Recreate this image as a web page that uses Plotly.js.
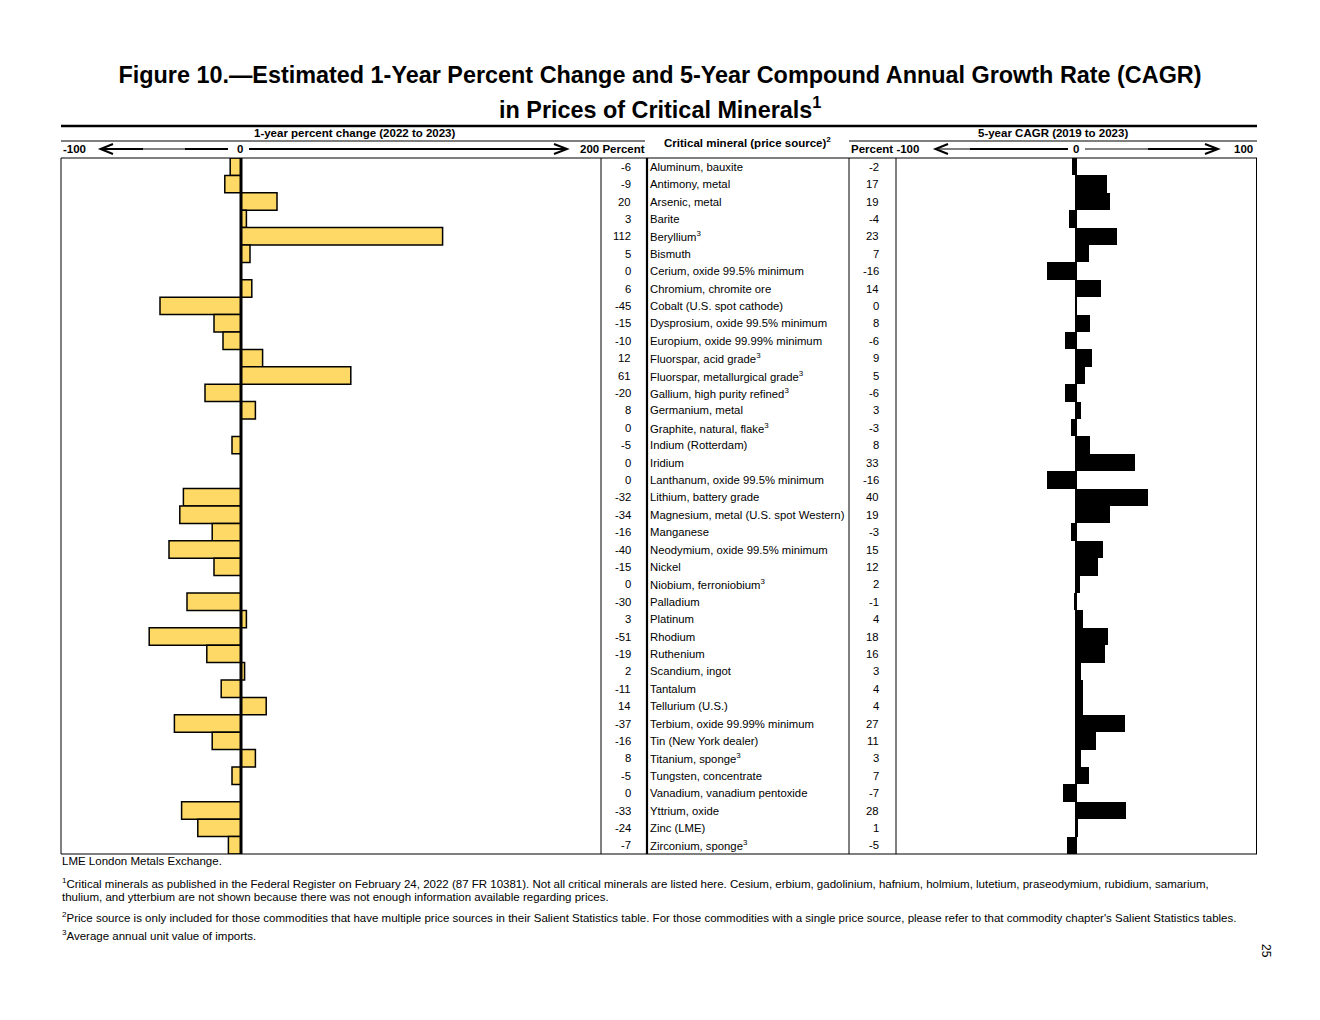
<!DOCTYPE html>
<html>
<head>
<meta charset="utf-8">
<script src="https://cdn.plot.ly/plotly-3.0.1.min.js"></script>
<style>html,body{margin:0;padding:0;background:#fff;}#chart{width:1320px;height:1020px;}</style>
</head>
<body>
<div id="chart"></div>
<script>
// ---------- DATA ----------
const minerals = [
  "Aluminum, bauxite", "Antimony, metal", "Arsenic, metal", "Barite", "Beryllium<sup>3</sup>",
  "Bismuth", "Cerium, oxide 99.5% minimum", "Chromium, chromite ore", "Cobalt (U.S. spot cathode)",
  "Dysprosium, oxide 99.5% minimum", "Europium, oxide 99.99% minimum", "Fluorspar, acid grade<sup>3</sup>",
  "Fluorspar, metallurgical grade<sup>3</sup>", "Gallium, high purity refined<sup>3</sup>", "Germanium, metal",
  "Graphite, natural, flake<sup>3</sup>", "Indium (Rotterdam)", "Iridium", "Lanthanum, oxide 99.5% minimum",
  "Lithium, battery grade", "Magnesium, metal (U.S. spot Western)", "Manganese", "Neodymium, oxide 99.5% minimum",
  "Nickel", "Niobium, ferroniobium<sup>3</sup>", "Palladium", "Platinum", "Rhodium", "Ruthenium",
  "Scandium, ingot", "Tantalum", "Tellurium (U.S.)", "Terbium, oxide 99.99% minimum", "Tin (New York dealer)",
  "Titanium, sponge<sup>3</sup>", "Tungsten, concentrate", "Vanadium, vanadium pentoxide", "Yttrium, oxide",
  "Zinc (LME)", "Zirconium, sponge<sup>3</sup>"
];
const oneYearChange = [
  -6, -9, 20, 3, 112, 5, 0, 6, -45, -15, -10, 12, 61, -20, 8, 0, -5, 0, 0, -32,
  -34, -16, -40, -15, 0, -30, 3, -51, -19, 2, -11, 14, -37, -16, 8, -5, 0, -33, -24, -7
];
const fiveYearCagr = [
  -2, 17, 19, -4, 23, 7, -16, 14, 0, 8, -6, 9, 5, -6, 3, -3, 8, 33, -16, 40,
  19, -3, 15, 12, 2, -1, 4, 18, 16, 3, 4, 4, 27, 11, 3, 7, -7, 28, 1, -5
];
const leftTicks = ["-100", "0", "200 Percent"];
const rightTicks = ["Percent -100", "0", "100"];
const titleLine1 = "Figure 10.\u2014Estimated 1-Year Percent Change and 5-Year Compound Annual Growth Rate (CAGR)";
const titleLine2 = "in Prices of Critical Minerals<sup>1</sup>";
const leftHeader = "1-year percent change (2022 to 2023)";
const midHeader = "Critical mineral (price source)<sup>2</sup>";
const rightHeader = "5-year CAGR (2019 to 2023)";
const footnotes = [
  "LME London Metals Exchange.",
  "<sup>1</sup>Critical minerals as published in the Federal Register on February 24, 2022 (87 FR 10381). Not all critical minerals are listed here. Cesium, erbium, gadolinium, hafnium, holmium, lutetium, praseodymium, rubidium, samarium,",
  "thulium, and ytterbium are not shown because there was not enough information available regarding prices.",
  "<sup>2</sup>Price source is only included for those commodities that have multiple price sources in their Salient Statistics table. For those commodities with a single price source, please refer to that commodity chapter's Salient Statistics tables.",
  "<sup>3</sup>Average annual unit value of imports."
];
const pageNumber = "25";

// ---------- LAYOUT HELPERS ----------
const W = 1320, H = 1020;
const px = x => x / W;
const py = y => 1 - y / H;
const FONT = "Liberation Sans, Arial, sans-serif";
const idx = minerals.map((_, i) => i);

function ln(x0, y0, x1, y1, w) {
  return {type: 'line', xref: 'paper', yref: 'paper', x0: px(x0), y0: py(y0), x1: px(x1), y1: py(y1),
          line: {color: '#000', width: w}, layer: 'above'};
}
function pth(pts, w) {
  return {type: 'path', xref: 'paper', yref: 'paper',
          path: 'M ' + pts.map(p => px(p[0]) + ' ' + py(p[1])).join(' L '),
          line: {color: '#000', width: w}, layer: 'above'};
}
function txt(x, y, text, size, opts) {
  return Object.assign({xref: 'paper', yref: 'paper', x: px(x), y: py(y), text: text, showarrow: false,
          font: {family: FONT, size: size, color: '#000'}, xanchor: 'center', yanchor: 'middle'}, opts || {});
}

const TOP = 158, BOT = 854;
const TITLE_SIZE = 23.4, HEAD_SIZE = 11.5, ROW_SIZE = 11.3, NOTE_SIZE = 11.5;

const traces = [
  {type: 'bar', orientation: 'h', x: oneYearChange, y: idx, xaxis: 'x', yaxis: 'y',
   marker: {color: '#FFD966', line: {color: '#000', width: 1.5}}, hoverinfo: 'x'},
  {type: 'bar', orientation: 'h', x: fiveYearCagr, y: idx, xaxis: 'x2', yaxis: 'y2',
   marker: {color: '#000', line: {color: '#000', width: 0}}, hoverinfo: 'x'}
];

const yDomain = [py(BOT), py(TOP)];
const layout = {
  width: W, height: H,
  margin: {l: 0, r: 0, t: 0, b: 0},
  paper_bgcolor: '#fff', plot_bgcolor: '#fff',
  showlegend: false,
  bargap: 0,
  title: {text: titleLine1, x: 0.5, xanchor: 'center', xref: 'paper', y: py(75), yanchor: 'middle',
          font: {family: FONT, size: TITLE_SIZE, color: '#000', weight: 'bold'}},
  xaxis: {domain: [px(61), px(601)], range: [-100, 200], showgrid: false, zeroline: false,
          showticklabels: false, ticks: '', fixedrange: true},
  yaxis: {domain: yDomain, range: [minerals.length - 0.5, -0.5], showgrid: false, zeroline: false,
          showticklabels: false, ticks: ''},
  xaxis2: {domain: [px(896), px(1256)], range: [-100, 100], showgrid: false, zeroline: false,
           showticklabels: false, ticks: '', anchor: 'y2'},
  yaxis2: {domain: yDomain, range: [minerals.length - 0.5, -0.5], showgrid: false, zeroline: false,
           showticklabels: false, ticks: '', anchor: 'x2'},
  shapes: [],
  annotations: []
};

const S = layout.shapes, A = layout.annotations;

// zero lines through the library's scales
S.push({type: 'line', xref: 'x', yref: 'paper', x0: 0, x1: 0, y0: py(TOP), y1: py(BOT),
        line: {color: '#000', width: 3}, layer: 'above'});
S.push({type: 'line', xref: 'x2', yref: 'paper', x0: 0, x1: 0, y0: py(TOP), y1: py(BOT),
        line: {color: '#000', width: 2}, layer: 'above'});

// table frame
S.push(ln(61, 126, 1257, 126, 2.5));
S.push(ln(61, 141, 645, 141, 1.2));
S.push(ln(849, 141, 1257, 141, 1.2));
S.push(ln(61, 158, 1257, 158, 1));
S.push(ln(61, 854, 1257, 854, 1.2));
S.push(ln(61, 158, 61, 854, 1));
S.push(ln(1256.5, 158, 1256.5, 854, 1));
S.push(ln(601, 158, 601, 854, 1));
S.push(ln(647, 158, 647, 854, 2.2));
S.push(ln(849, 158, 849, 854, 1));
S.push(ln(896, 158, 896, 854, 1));

// arrows (left chart)
const AY = 149;
S.push(pth([[113, AY - 5], [100.5, AY], [113, AY + 5]], 2));
S.push(ln(101, AY, 143, AY, 2.2));
S.push(ln(143, AY, 185, AY, 1));
S.push(ln(185, AY, 228, AY, 2.2));
S.push(ln(249, AY, 567, AY, 2.2));
S.push(pth([[554, AY - 5], [567, AY], [554, AY + 5]], 2));
// arrows (right chart)
S.push(pth([[948, AY - 5], [935.5, AY], [948, AY + 5]], 2));
S.push(ln(936, AY, 970, AY, 1));
S.push(ln(970, AY, 1068, AY, 2.2));
S.push(ln(1085, AY, 1148, AY, 1));
S.push(ln(1148, AY, 1218, AY, 2.2));
S.push(pth([[1205, AY - 5], [1218, AY], [1205, AY + 5]], 2));

// header texts
const hb = s => ({family: FONT, size: s, color: '#000', weight: 'bold'});
A.push(txt(660, 108, titleLine2, TITLE_SIZE, {font: hb(TITLE_SIZE)}));
A.push(txt(355, 133, leftHeader, HEAD_SIZE, {font: hb(HEAD_SIZE)}));
A.push(txt(1053, 133, rightHeader, HEAD_SIZE, {font: hb(HEAD_SIZE)}));
A.push(txt(747, 142, midHeader, HEAD_SIZE, {font: hb(HEAD_SIZE)}));
A.push(txt(61, AY, leftTicks[0], HEAD_SIZE, {font: hb(HEAD_SIZE), xanchor: 'left'}));
A.push(txt(240, AY, leftTicks[1], HEAD_SIZE, {font: hb(HEAD_SIZE)}));
A.push(txt(647, AY, leftTicks[2], HEAD_SIZE, {font: hb(HEAD_SIZE), xanchor: 'right'}));
A.push(txt(849, AY, rightTicks[0], HEAD_SIZE, {font: hb(HEAD_SIZE), xanchor: 'left'}));
A.push(txt(1076, AY, rightTicks[1], HEAD_SIZE, {font: hb(HEAD_SIZE)}));
A.push(txt(1255, AY, rightTicks[2], HEAD_SIZE, {font: hb(HEAD_SIZE), xanchor: 'right'}));

// table rows (positioned on the library's y scale)
minerals.forEach((m, i) => {
  A.push({xref: 'paper', yref: 'y', x: px(633), y: i, text: String(oneYearChange[i]), showarrow: false,
          xanchor: 'right', yanchor: 'middle', font: {family: FONT, size: ROW_SIZE, color: '#000'}});
  A.push({xref: 'paper', yref: 'y', x: px(647.5), y: i, text: m, showarrow: false,
          xanchor: 'left', yanchor: 'middle', font: {family: FONT, size: ROW_SIZE, color: '#000'}});
  A.push({xref: 'paper', yref: 'y', x: px(881), y: i, text: String(fiveYearCagr[i]), showarrow: false,
          xanchor: 'right', yanchor: 'middle', font: {family: FONT, size: ROW_SIZE, color: '#000'}});
});

// footnotes
const fy = [861, 883, 897, 917, 935];
footnotes.forEach((f, i) => {
  A.push(txt(60, fy[i], f, NOTE_SIZE, {xanchor: 'left'}));
});
A.push(txt(1266, 951, pageNumber, 12, {textangle: 90}));

Plotly.newPlot('chart', traces, layout, {displayModeBar: false, staticPlot: true});
</script>
</body>
</html>
